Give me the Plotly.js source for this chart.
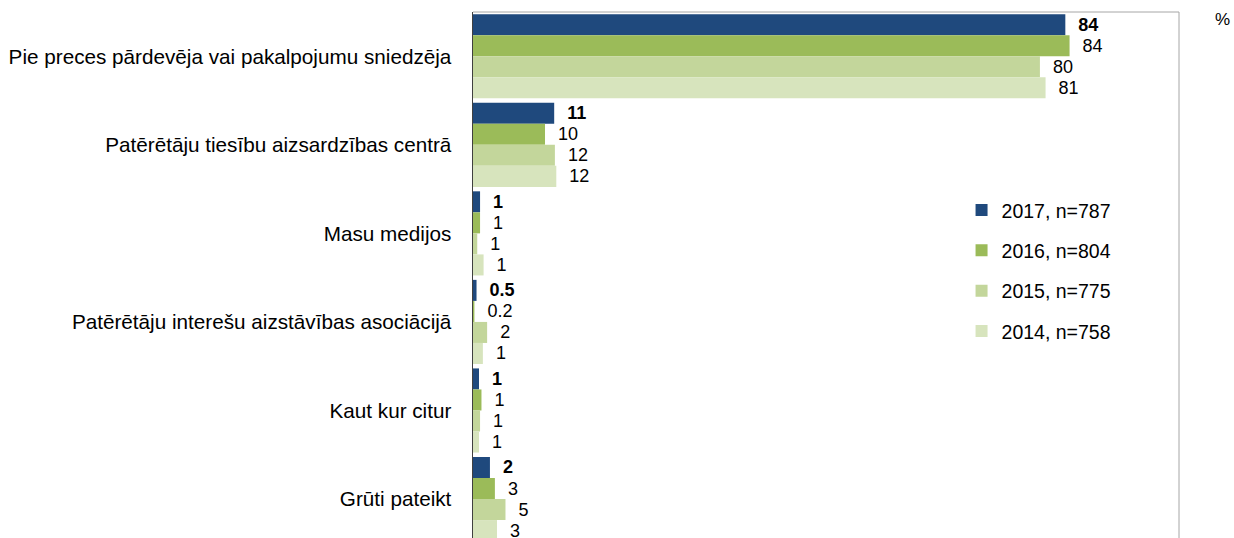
<!DOCTYPE html>
<html>
<head>
<meta charset="utf-8">
<script src="https://cdn.plot.ly/plotly-3.0.1.min.js"></script>
<style>html,body{margin:0;padding:0;background:#fff;}#chart{width:1234px;height:538px;}</style>
</head>
<body>
<div id="chart"></div>
<script>
const categories = [
  "Pie preces pārdevēja vai pakalpojumu sniedzēja",
  "Patērētāju tiesību aizsardzības centrā",
  "Masu medijos",
  "Patērētāju interešu aizstāvības asociācijā",
  "Kaut kur citur",
  "Grūti pateikt"
];
const seriesNames = ["2017, n=787", "2016, n=804", "2015, n=775", "2014, n=758"];
const values2017 = [83.9, 11.5, 1.0, 0.5, 0.85, 2.4];
const values2016 = [84.5, 10.2, 1.0, 0.2, 1.2, 3.1];
const values2015 = [80.3, 11.6, 0.6, 2.0, 1.0, 4.6];
const values2014 = [81.1, 11.8, 1.5, 1.4, 0.85, 3.4];
const labels2017 = ["84", "11", "1", "0.5", "1", "2"];
const labels2016 = ["84", "10", "1", "0.2", "1", "3"];
const labels2015 = ["80", "12", "1", "2", "1", "5"];
const labels2014 = ["81", "12", "1", "1", "1", "3"];

const colors = ["#1F497D", "#9BBB59", "#C3D69B", "#D7E4BD"];
const allValues = [values2017, values2016, values2015, values2014];
const allLabels = [labels2017, labels2016, labels2015, labels2014];
const pad = "\u00A0\u00A0";

const FONT = "Liberation Sans, Arial, sans-serif";

const traces = seriesNames.map((name, i) => ({
  type: "bar",
  orientation: "h",
  name: name,
  y: categories,
  x: allValues[i],
  text: allLabels[i].map(t => pad + (i === 0 ? "<b>" + t + "</b>" : t)),
  textposition: "outside",
  cliponaxis: false,
  constraintext: "none",
  textfont: {family: FONT, size: 18, color: "#000"},
  marker: {color: colors[i], line: {width: 0}},
  legendgroup: "g" + i,
  hoverinfo: "none"
}));

const layout = {
  width: 1234,
  height: 538,
  margin: {l: 473, r: 55, t: 12, b: 0},
  paper_bgcolor: "#fff",
  plot_bgcolor: "#fff",
  barmode: "group",
  bargap: 0.05,
  bargroupgap: 0,
  font: {family: FONT, size: 16, color: "#000"},
  xaxis: {
    range: [0, 100],
    showgrid: false,
    zeroline: false,
    showticklabels: false,
    showline: false,
    fixedrange: true
  },
  yaxis: {
    type: "category",
    range: [5.44, -0.5],
    autorange: false,
    showgrid: false,
    zeroline: false,
    showline: true,
    linecolor: "#404040",
    linewidth: 1.5,
    ticks: "",
    ticklabelstandoff: 16,
    tickfont: {family: FONT, size: 20.7, color: "#000"},
    fixedrange: true
  },
  legend: {
    x: 0.692,
    y: 0.66,
    xanchor: "left",
    yanchor: "top",
    traceorder: "grouped",
    tracegroupgap: 12,
    font: {family: FONT, size: 19.5, color: "#000"},
    bgcolor: "rgba(0,0,0,0)",
    itemwidth: 30
  },
  shapes: [
    {type: "line", xref: "paper", yref: "paper", x0: 0, x1: 1, y0: 1, y1: 1,
     line: {color: "#A6A6A6", width: 1}, layer: "below"},
    {type: "line", xref: "paper", yref: "paper", x0: 1, x1: 1, y0: 0, y1: 1,
     line: {color: "#A6A6A6", width: 1}, layer: "below"}
  ],
  annotations: [{
    text: "%", xref: "paper", yref: "paper",
    x: 1.061, y: 0.985, xanchor: "center", yanchor: "middle",
    showarrow: false, font: {family: FONT, size: 17, color: "#000"}
  }],
  showlegend: true
};

Plotly.newPlot("chart", traces, layout, {displayModeBar: false, staticPlot: true});
</script>
</body>
</html>
